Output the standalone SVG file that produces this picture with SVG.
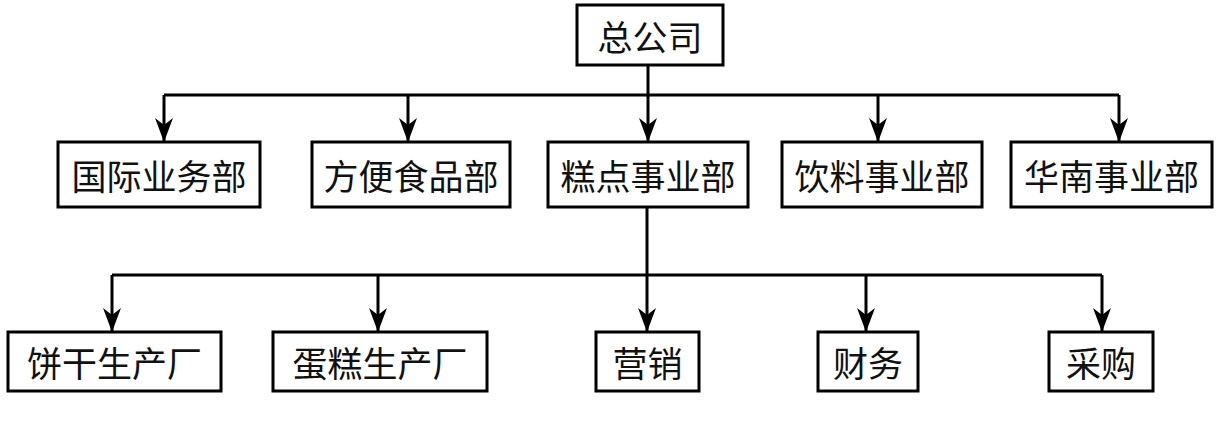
<svg xmlns="http://www.w3.org/2000/svg" width="1217" height="434" viewBox="0 0 1217 434">
<style>
.box{fill:#fff;stroke:#000;stroke-width:3}
.lbl{font-family:"Noto Sans CJK SC","Noto Sans CJK JP",sans-serif;font-size:35px;fill:#111;text-anchor:middle;dominant-baseline:central}
.con{fill:none;stroke:#000;stroke-width:3}
</style>
<defs>
<marker id="ah" markerUnits="userSpaceOnUse" markerWidth="24" markerHeight="18" refX="23" refY="9" orient="auto" viewBox="0 0 24 18">
<path d="M0,0 L7,9 L0,18 L24,9 Z" fill="#000"/>
</marker>
</defs>
<g id="connectors">
<path class="con" d="M648,65 V95"/>
<path class="con" d="M164,95 H1119"/>
<path class="con" d="M164,95 V141" marker-end="url(#ah)"/>
<path class="con" d="M408,95 V141" marker-end="url(#ah)"/>
<path class="con" d="M648,95 V141" marker-end="url(#ah)"/>
<path class="con" d="M878,95 V141" marker-end="url(#ah)"/>
<path class="con" d="M1119,95 V141" marker-end="url(#ah)"/>
<path class="con" d="M647,206 V275"/>
<path class="con" d="M112,275 H1102"/>
<path class="con" d="M112,275 V331" marker-end="url(#ah)"/>
<path class="con" d="M378,275 V331" marker-end="url(#ah)"/>
<path class="con" d="M647,275 V331" marker-end="url(#ah)"/>
<path class="con" d="M866,275 V331" marker-end="url(#ah)"/>
<path class="con" d="M1102,275 V331" marker-end="url(#ah)"/>
</g>
<g id="n0"><rect class="box" x="577" y="5" width="146" height="60"/><text class="lbl" x="650" y="35">总公司</text></g>
<g id="n1"><rect class="box" x="58" y="142" width="202" height="65"/><text class="lbl" x="159" y="174.5">国际业务部</text></g>
<g id="n2"><rect class="box" x="312" y="142" width="198" height="65"/><text class="lbl" x="411" y="174.5">方便食品部</text></g>
<g id="n3"><rect class="box" x="548" y="142" width="200" height="65"/><text class="lbl" x="648" y="174.5">糕点事业部</text></g>
<g id="n4"><rect class="box" x="782" y="142" width="200" height="65"/><text class="lbl" x="882" y="174.5">饮料事业部</text></g>
<g id="n5"><rect class="box" x="1011" y="142" width="201" height="65"/><text class="lbl" x="1111.5" y="174.5">华南事业部</text></g>
<g id="n6"><rect class="box" x="8" y="332" width="213" height="59"/><text class="lbl" x="114.5" y="361.5">饼干生产厂</text></g>
<g id="n7"><rect class="box" x="273" y="332" width="214" height="59"/><text class="lbl" x="380" y="361.5">蛋糕生产厂</text></g>
<g id="n8"><rect class="box" x="596" y="332" width="103" height="59"/><text class="lbl" x="647.5" y="361.5">营销</text></g>
<g id="n9"><rect class="box" x="818" y="332" width="100" height="59"/><text class="lbl" x="868" y="361.5">财务</text></g>
<g id="n10"><rect class="box" x="1049" y="332" width="104" height="59"/><text class="lbl" x="1101" y="361.5">采购</text></g>
</svg>
